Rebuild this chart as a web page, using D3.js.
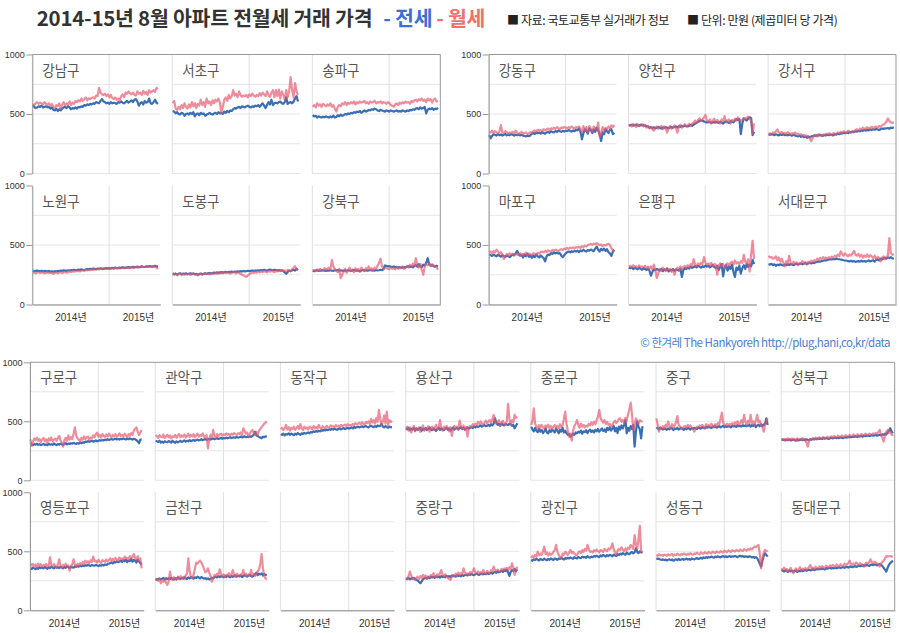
<!DOCTYPE html>
<html><head><meta charset="utf-8">
<script src="https://cdn.jsdelivr.net/npm/d3@7"></script>
<style>body{margin:0;background:#fff}svg{display:block}</style>
</head><body><script>
// ---------- DATA (만원 / ㎡, weekly, 2014-01 ~ 2015-08) ----------
const yTicks = [0, 500, 1000];
const yGrid = [0, 250, 500, 750];
const xGridDates = ["2014-01-01", "2015-01-01"];
const xTickDates = ["2014-07-01", "2015-05-18"];
const xTickLabels = ["2014년", "2015년"];
const seriesNames = ["전세", "월세"];

const groupA = [["강남구","서초구","송파구"],["노원구","도봉구","강북구"]];
const groupB = [["강동구","양천구","강서구"],["마포구","은평구","서대문구"]];
const groupC = [["구로구","관악구","동작구","용산구","종로구","중구","성북구"],["영등포구","금천구",null,"중랑구","광진구","성동구","동대문구"]];

const gangnamJeonse = [575,560,550,555,565,560,570,555,560,565,555,560,545,555,535,530,545,525,540,530,545,555,560,550,565,555,540,550,545,555,545,560,555,565,560,575,570,580,575,585,580,590,585,600,595,590,610,625,605,600,590,595,585,600,590,595,590,585,600,595,605,595,590,600,610,595,605,615,600,620,625,605,570,590,600,580,610,595,600,630,590,585,600,620,595,585];
const gangnamWolse = [580,575,590,600,585,595,590,580,600,585,575,590,570,585,560,550,575,565,590,545,580,600,570,590,580,605,575,595,585,610,600,615,605,630,610,625,640,615,630,625,635,640,630,655,650,720,680,665,660,670,650,665,640,660,635,625,640,620,630,615,650,665,640,680,670,690,675,665,680,660,655,690,670,680,660,695,670,685,660,700,680,690,700,685,720,710];
const seochoJeonse = [525,520,505,515,500,495,510,505,485,500,505,495,510,500,515,480,500,505,490,510,500,505,485,495,500,510,500,495,505,510,500,515,505,510,500,520,510,525,515,530,525,540,550,545,555,560,550,565,560,555,565,570,560,555,565,560,570,565,575,560,575,590,570,550,575,600,580,620,575,590,595,590,600,605,590,585,600,640,585,595,600,590,605,630,650,605];
const seochoWolse = [590,610,545,535,560,540,575,550,590,560,545,580,555,600,565,590,550,585,570,620,575,600,560,630,590,605,575,615,590,620,605,630,600,505,560,620,640,610,660,630,650,700,655,670,640,690,660,645,655,650,660,640,665,650,670,655,645,660,650,675,655,680,665,650,690,660,645,680,700,640,700,650,705,630,690,660,620,700,640,690,810,700,640,760,690,660];
const songpaJeonse = [490,480,485,470,480,475,470,478,472,480,475,470,480,472,485,470,475,490,480,495,485,490,500,495,505,500,510,505,515,510,520,515,525,510,520,530,520,525,535,530,540,535,545,540,530,525,535,530,525,520,530,525,520,530,525,520,525,530,520,525,520,530,525,520,530,525,535,530,540,535,545,550,540,555,545,550,560,505,535,545,540,550,535,545,540,552];
const songpaWolse = [560,575,555,590,570,580,560,585,575,565,580,570,590,560,575,545,520,560,575,565,590,580,600,575,595,585,600,590,605,580,600,590,605,595,600,610,590,600,585,605,595,600,610,590,600,595,605,590,600,595,585,600,590,575,570,560,580,590,575,595,585,600,590,605,595,600,585,610,600,615,620,605,625,615,630,610,620,600,630,615,625,595,620,630,605,610];
const nowonJeonse = [285,280,283,285,282,280,284,278,282,280,278,282,276,280,275,280,278,282,280,285,282,287,285,283,288,286,290,288,292,290,288,293,290,295,292,290,294,298,295,300,298,302,300,298,302,300,304,302,300,303,305,302,306,304,308,305,310,307,305,310,308,312,310,308,312,314,310,313,316,312,315,318,314,316,320,317,315,320,318,322,320,318,322,325,320,318];
const nowonWolse = [265,270,262,268,272,265,270,268,262,266,270,264,268,262,258,265,270,262,268,272,265,270,275,268,272,278,274,280,276,282,280,285,278,284,288,282,290,286,292,288,294,290,296,292,298,295,300,296,302,298,300,304,298,302,305,300,306,302,308,304,306,310,305,308,312,306,310,314,308,312,315,310,316,312,318,314,316,320,316,318,322,316,320,318,310,300];
const dobongJeonse = [262,255,260,252,258,262,255,260,256,262,255,258,262,256,260,254,258,250,256,260,254,258,262,258,262,265,260,264,268,265,270,266,270,272,268,272,275,270,274,272,276,273,277,275,278,276,280,277,282,278,280,284,280,283,286,282,286,284,288,285,290,286,292,288,285,290,294,290,288,292,290,286,290,285,288,282,270,258,275,285,280,288,292,285,300,290];
const dobongWolse = [255,250,258,245,255,262,248,256,250,258,252,260,248,256,262,250,255,245,252,258,250,256,262,255,260,252,258,262,256,264,258,265,260,268,262,270,264,272,268,260,265,272,268,262,270,265,258,250,245,238,232,245,255,262,270,265,272,268,276,270,278,272,280,275,270,282,276,284,278,272,282,278,285,280,288,282,286,278,290,284,280,295,310,322,295,288];
const gangbukJeonse = [283,280,285,288,282,286,284,288,285,282,286,284,288,285,283,288,286,290,284,288,285,282,287,284,288,286,282,286,290,285,287,284,280,286,290,285,288,284,286,290,286,288,284,290,286,288,292,288,295,328,325,320,322,318,315,320,312,316,310,314,308,312,315,310,318,322,315,320,312,325,330,318,340,322,315,335,328,350,389,340,325,330,322,318,325,320];
const gangbukWolse = [285,290,280,295,285,300,290,285,305,295,300,310,295,375,320,300,285,270,300,222,250,275,300,265,290,310,280,295,270,305,285,300,275,310,290,280,305,295,320,290,305,285,310,300,325,350,385,320,300,310,305,300,295,310,300,305,295,315,300,310,305,320,300,315,325,310,335,320,345,330,389,330,310,340,290,250,320,340,330,345,325,340,330,320,315,292];
const gangdongJeonse = [323,295,315,330,325,320,330,322,328,318,325,332,320,328,322,330,325,318,326,322,328,320,325,318,315,312,318,314,320,335,340,332,345,338,342,335,348,340,335,345,350,342,355,348,345,358,350,362,355,350,358,352,360,355,365,358,352,362,356,368,362,379,350,287,340,372,355,335,380,365,340,370,350,385,360,330,272,345,330,372,355,340,368,372,330,343];
const gangdongWolse = [351,345,360,340,355,348,338,352,407,345,340,355,348,335,345,340,350,338,360,345,330,342,350,335,340,345,332,338,348,342,355,362,350,368,358,365,355,372,362,370,378,365,380,372,385,375,390,380,372,388,380,392,385,378,390,382,395,385,378,390,385,395,370,350,398,360,390,345,399,375,355,395,380,365,427,309,340,390,355,385,372,395,380,405,390,407];
const yangcheonJeonse = [407,405,410,402,408,412,405,400,410,404,408,402,398,395,385,390,382,388,380,385,392,385,378,388,382,390,385,380,388,392,385,390,395,388,398,392,400,395,402,398,395,402,408,400,410,420,425,435,440,445,442,438,432,428,435,430,425,432,428,435,430,425,435,428,420,432,438,430,425,440,435,430,445,455,450,458,331,420,463,455,445,460,472,465,323,351];
const yangcheonWolse = [400,410,395,415,405,390,412,398,405,415,395,408,385,400,378,392,370,360,385,395,375,390,400,370,395,380,343,385,400,375,390,405,380,343,395,410,385,400,415,395,405,418,400,420,430,445,425,450,465,440,455,470,492,445,430,455,420,445,460,425,450,435,420,455,440,483,430,445,455,420,450,440,460,445,472,455,440,450,465,455,470,478,460,445,337,421];
const gangseoJeonse = [329,325,332,328,322,330,326,320,328,324,330,322,326,320,328,322,318,325,320,315,312,318,308,315,305,312,300,310,306,312,315,320,316,322,318,325,320,316,324,320,326,322,328,324,320,330,326,335,330,338,335,342,338,345,340,348,345,352,348,355,352,358,355,362,358,365,360,368,362,370,365,372,368,375,370,365,372,378,374,380,378,382,376,385,382,388];
const gangseoWolse = [330,338,325,345,340,355,371,345,338,350,335,342,330,348,338,325,340,332,345,328,335,322,331,318,325,312,320,305,295,272,300,318,325,312,330,320,315,328,322,335,325,338,330,322,340,335,328,345,338,350,342,355,348,340,360,352,345,358,350,365,372,360,378,368,385,372,380,390,375,385,392,380,388,395,385,400,392,405,410,420,435,463,440,430,425,427];
const mapoJeonse = [423,415,408,420,412,405,418,410,402,415,408,400,412,405,398,410,420,415,430,451,425,410,418,395,420,405,428,400,415,392,410,398,420,405,395,412,400,390,362,405,420,415,432,425,438,430,435,428,432,410,398,415,430,440,445,438,448,442,450,445,452,440,455,448,460,450,445,458,452,462,455,448,470,487,460,445,468,455,470,450,465,440,430,409,445,460];
const mapoWolse = [440,445,430,450,438,460,445,425,440,420,382,405,425,412,430,418,428,410,425,420,415,430,408,425,418,435,412,428,420,415,432,425,418,435,428,440,445,438,450,442,455,448,440,458,450,462,455,448,460,465,458,470,465,475,468,478,472,480,470,482,478,485,475,490,482,495,488,500,505,510,502,512,505,515,508,498,505,490,501,495,505,510,500,470,455,446];
const eunpyeongJeonse = [310,305,312,298,308,302,295,310,300,292,305,298,290,302,285,242,275,295,288,300,292,285,298,280,295,288,302,278,290,285,298,282,295,290,285,300,231,290,305,298,310,302,318,308,315,322,312,325,318,310,322,315,328,318,325,312,320,330,315,305,325,290,315,340,237,310,330,285,320,300,335,275,231,310,290,325,260,305,330,300,340,315,335,320,376,340];
const eunpyeongWolse = [320,325,315,330,318,322,310,328,315,320,312,325,305,318,300,320,295,335,290,223,260,300,285,310,295,280,305,290,300,275,295,251,290,310,285,320,300,315,325,305,330,315,340,320,381,335,325,345,330,350,340,398,350,335,345,330,350,320,340,335,251,330,345,320,340,310,335,345,325,350,360,335,370,345,355,340,365,350,418,360,345,380,279,420,535,381];
const seodaemunJeonse = [340,335,342,330,338,325,335,330,338,332,328,335,330,338,332,340,335,330,338,342,336,340,345,338,342,348,340,345,350,345,352,348,355,358,362,360,365,368,372,370,375,378,380,378,382,380,385,382,380,378,375,372,370,368,365,362,368,360,365,358,362,365,360,368,362,366,360,365,370,362,368,372,360,375,380,370,385,378,388,392,385,395,390,398,388,382];
const seodaemunWolse = [409,395,400,385,390,405,370,395,360,385,350,320,365,345,409,350,335,360,340,355,330,350,340,365,345,358,335,360,350,368,355,372,360,385,378,392,380,398,388,395,385,398,390,402,395,410,400,420,405,446,425,410,430,415,405,420,412,430,451,420,410,425,402,418,395,412,400,420,398,415,405,390,410,385,400,392,362,395,405,380,400,410,557,430,418,426];
const guroJeonse = [319,305,298,308,302,310,300,306,298,304,308,300,305,298,310,302,306,300,312,304,298,308,302,310,305,300,308,315,305,312,308,315,310,318,312,308,316,310,320,314,322,318,328,325,332,326,330,335,328,332,338,330,335,340,336,342,338,345,340,348,342,346,350,344,348,352,346,350,345,352,348,354,350,346,352,348,355,350,345,352,348,340,330,314,345,347];
const guroWolse = [347,291,330,355,340,360,335,350,325,345,360,330,348,320,355,338,362,330,345,352,335,358,376,340,320,285,340,360,335,380,345,365,350,395,449,380,355,345,328,360,345,372,350,365,370,340,362,355,380,365,390,404,370,385,362,392,375,368,388,372,395,378,365,385,372,390,368,380,398,375,385,370,395,380,365,392,378,400,385,420,435,449,410,384,405,427];
const gwanakJeonse = [336,330,325,335,320,328,318,330,325,322,332,328,320,335,325,318,330,322,328,335,325,330,338,328,335,330,340,332,336,342,335,340,345,338,342,348,340,345,350,342,348,352,345,350,355,348,352,358,350,355,360,352,358,355,362,356,360,365,358,362,365,360,368,362,365,370,364,368,372,365,370,366,372,368,375,385,412,380,375,368,362,356,370,365,372,370];
const gwanakWolse = [384,375,360,382,370,365,388,358,375,385,365,380,355,372,368,385,360,378,392,365,380,370,388,362,375,395,368,385,372,390,365,380,395,370,385,375,398,372,360,385,271,350,385,365,427,380,360,392,375,388,395,378,390,382,398,385,392,380,395,388,400,390,385,398,392,405,385,441,420,395,405,370,395,415,427,400,390,410,384,420,435,450,465,480,490,497];
const dongjakJeonse = [390,385,395,380,392,388,398,385,395,390,382,395,388,400,392,385,398,392,402,395,400,405,398,410,405,415,410,418,412,420,415,425,420,428,422,430,425,432,428,435,430,438,432,428,435,440,432,438,442,435,440,445,438,442,448,440,452,445,450,455,448,452,458,450,455,460,452,448,458,462,455,450,460,452,465,458,462,477,455,448,460,452,445,455,450,449];
const dongjakWolse = [432,445,425,440,469,430,450,420,445,435,455,428,442,460,435,477,440,425,455,438,448,430,455,445,432,460,440,452,438,469,445,435,458,448,440,462,450,445,465,455,460,448,468,455,462,450,470,458,465,472,460,475,465,470,462,478,470,485,475,480,488,475,492,480,470,495,485,500,478,520,490,510,480,530,495,596,520,469,500,550,480,582,469,510,495,503];
const yongsanJeonse = [441,432,445,425,438,430,445,422,440,428,435,445,420,438,430,442,425,435,448,430,425,440,432,418,435,445,428,440,432,425,438,445,430,440,422,435,448,430,438,445,432,440,450,435,445,430,442,448,438,445,450,442,455,448,460,452,458,465,455,462,468,458,462,470,460,475,465,480,525,490,470,478,462,480,470,465,478,472,468,480,475,462,470,441,460,483];
const yongsanWolse = [441,455,420,448,405,435,460,415,440,425,450,410,438,465,420,445,430,458,412,440,455,425,448,470,430,445,511,440,420,455,432,460,445,415,450,376,430,462,440,455,428,506,455,440,465,425,450,370,440,460,450,475,465,480,470,495,478,500,485,470,490,505,480,498,510,488,520,554,500,480,495,510,460,490,505,480,475,500,647,520,469,510,490,554,530,540];
const jongnoJeonse = [455,430,415,445,420,408,435,412,428,400,415,440,405,398,425,410,432,418,405,440,420,398,430,412,445,405,420,398,385,392,370,380,395,385,405,398,412,405,420,395,415,408,425,400,418,430,410,422,405,428,415,435,412,425,440,418,432,410,445,425,450,420,438,460,415,445,400,455,430,465,440,470,511,398,445,420,460,435,470,285,410,497,455,430,356,460];
const jongnoWolse = [469,510,610,480,455,440,468,445,470,450,438,465,448,472,440,460,435,455,470,445,462,440,475,452,465,520,582,480,420,370,395,336,420,460,480,511,470,445,480,455,470,448,462,455,480,465,490,470,497,475,510,540,596,530,505,489,510,478,495,470,480,455,470,490,505,485,500,520,525,495,510,490,530,505,560,600,658,560,427,470,525,505,480,510,500,497];
const jungguJeonse = [449,440,432,445,438,430,442,435,428,440,432,445,438,425,440,435,445,430,438,442,435,428,440,432,445,438,430,442,436,445,440,435,448,442,438,450,445,440,452,446,455,448,442,455,450,458,446,452,460,448,455,462,450,458,452,460,455,448,462,456,460,452,465,458,462,455,468,460,465,458,462,470,455,468,460,472,450,465,470,458,475,460,470,480,525,469];
const jungguWolse = [525,470,412,450,435,460,442,470,455,497,460,445,475,450,468,490,545,470,455,448,440,455,462,445,470,452,465,448,435,412,440,455,448,465,450,470,458,445,475,460,468,455,480,462,450,475,460,485,470,520,573,490,470,465,480,460,478,470,485,465,490,475,500,470,485,510,480,554,495,470,505,485,554,480,500,470,510,554,490,505,470,450,412,470,500,525];
const seongbukJeonse = [347,342,345,338,344,340,346,338,342,345,340,336,344,338,342,346,340,345,338,348,344,340,348,345,350,346,352,348,355,350,354,350,356,352,358,354,350,356,360,355,358,362,356,360,358,364,360,358,362,365,362,366,368,365,370,368,372,370,368,374,372,375,370,378,374,376,380,375,378,382,378,380,384,378,382,386,380,390,385,395,388,405,420,441,415,398];
const seongbukWolse = [345,350,338,352,342,356,340,348,355,342,350,338,355,345,352,340,358,345,350,320,285,335,350,345,358,348,362,350,356,365,352,360,368,355,362,370,358,365,372,362,375,368,362,378,370,365,380,372,368,382,375,370,385,378,372,388,380,375,390,382,378,392,385,380,395,388,382,396,390,385,398,390,402,395,410,427,385,360,328,380,410,427,400,415,390,376];
const yeongdeungpoJeonse = [356,350,362,355,348,360,352,365,358,362,355,368,360,352,365,358,370,362,355,368,360,365,358,370,362,355,368,360,372,365,358,370,365,362,372,368,375,370,378,372,380,375,382,378,385,380,376,384,380,378,385,380,376,382,378,385,380,388,384,392,395,400,405,398,410,405,415,408,412,420,410,425,415,430,408,422,418,435,412,428,420,405,430,415,400,384];
const yeongdeungpoWolse = [398,380,392,372,388,365,395,378,390,370,385,375,392,368,380,449,385,370,392,375,365,390,432,378,360,385,372,395,368,380,336,375,390,432,385,370,395,380,400,385,410,395,420,405,415,398,425,410,455,415,420,405,428,412,400,425,418,410,430,415,425,440,418,435,425,445,430,420,448,435,440,425,455,438,445,430,460,440,452,477,445,430,460,420,440,356];
const geumcheonJeonse = [263,258,265,270,262,268,275,260,272,266,270,264,275,268,262,272,266,278,270,265,275,268,280,272,266,278,270,282,275,268,280,274,285,278,270,282,275,268,272,265,270,262,268,275,270,280,285,278,288,282,290,284,280,288,282,292,286,280,290,284,288,295,285,292,288,296,282,290,298,292,285,295,300,290,285,295,305,319,298,310,305,312,295,308,300,299];
const geumcheonWolse = [271,260,248,265,229,250,240,262,235,215,245,328,270,255,280,262,258,285,265,290,272,280,265,295,310,441,330,285,271,300,350,404,395,410,421,405,380,350,322,330,356,320,290,243,275,300,285,310,295,347,310,290,305,285,300,295,315,290,305,342,300,285,310,295,290,305,300,342,295,310,290,305,300,342,295,310,290,305,330,345,395,477,360,290,271,263];
const jungnangJeonse = [271,265,275,262,270,268,275,265,258,252,240,229,245,262,270,275,268,280,272,285,278,282,275,288,280,285,278,290,282,288,280,292,285,290,282,295,288,292,285,298,290,295,288,300,292,298,302,295,305,300,308,302,298,306,310,304,300,308,312,305,310,306,315,308,312,318,310,320,325,318,330,322,328,335,325,340,332,345,320,291,325,340,335,350,330,347];
const jungnangWolse = [257,270,290,328,295,270,265,257,275,285,265,290,275,300,280,295,270,288,278,300,285,314,290,280,305,295,315,342,300,285,305,290,275,265,257,285,300,290,310,295,320,300,315,305,356,320,305,315,300,325,310,330,356,320,310,330,315,325,305,342,320,310,335,325,315,340,330,370,345,330,345,335,328,350,340,355,345,360,340,365,350,398,360,300,345,370];
const gwangjinJeonse = [427,420,432,425,438,428,422,435,430,425,438,430,424,436,428,440,432,426,438,435,428,440,434,445,436,430,442,438,445,440,448,442,436,450,444,440,452,446,442,455,448,452,445,458,450,446,455,450,460,455,462,455,450,465,458,470,462,455,468,460,470,465,458,472,465,460,475,468,480,472,485,475,470,490,480,475,488,495,482,490,525,495,485,500,490,497];
const gwangjinWolse = [441,460,450,470,455,497,465,480,470,500,540,475,490,465,485,470,478,495,510,554,500,470,455,441,480,470,495,485,470,490,511,485,495,480,470,469,490,500,485,510,495,520,505,554,520,495,500,490,510,498,515,500,490,510,505,495,520,510,500,525,515,530,568,520,490,470,505,520,510,534,515,500,525,510,530,520,554,540,520,638,560,520,600,715,497,497];
const seongdongJeonse = [441,435,438,430,427,432,425,430,422,428,432,425,430,420,428,432,425,435,428,430,435,428,432,438,430,435,428,440,435,432,438,442,435,440,445,438,448,442,450,445,452,448,455,450,446,455,450,458,452,448,455,460,452,458,450,455,460,452,458,455,460,455,450,458,462,455,460,452,458,455,450,458,455,448,452,445,450,441,420,395,370,420,460,483,470,455];
const seongdongWolse = [469,462,475,465,470,460,472,468,462,475,465,470,478,462,472,468,480,470,465,478,470,482,475,468,480,472,485,476,470,482,478,488,480,475,490,484,478,492,486,480,495,488,482,498,490,486,500,492,488,502,495,490,505,498,492,508,500,495,510,502,498,512,505,500,515,508,502,518,510,505,520,512,525,515,530,540,535,545,554,480,356,440,490,511,505,497];
const dongdaemunJeonse = [342,335,328,340,332,325,338,330,335,328,332,338,325,335,330,340,332,336,342,335,340,345,338,342,348,340,345,350,346,352,348,355,350,346,358,352,356,360,354,358,355,362,356,360,365,358,362,368,360,365,370,362,368,372,365,370,375,368,372,378,374,380,375,382,378,385,380,376,385,388,382,390,386,380,388,392,385,375,360,345,328,360,385,400,410,421];
const dongdaemunWolse = [356,340,362,335,350,328,345,360,330,315,340,355,332,348,365,338,352,345,360,340,355,368,384,350,362,345,370,358,352,372,360,375,365,355,378,370,362,380,372,385,375,368,388,378,372,390,380,375,395,385,392,400,421,395,385,398,390,405,395,388,400,392,385,370,395,405,398,410,432,405,398,412,405,395,390,370,395,410,420,440,460,455,458,460,455,455];

// table built from the named arrays
const seriesTable = {
  "강남구":[gangnamJeonse,gangnamWolse],"서초구":[seochoJeonse,seochoWolse],"송파구":[songpaJeonse,songpaWolse],
  "노원구":[nowonJeonse,nowonWolse],"도봉구":[dobongJeonse,dobongWolse],"강북구":[gangbukJeonse,gangbukWolse],
  "강동구":[gangdongJeonse,gangdongWolse],"양천구":[yangcheonJeonse,yangcheonWolse],"강서구":[gangseoJeonse,gangseoWolse],
  "마포구":[mapoJeonse,mapoWolse],"은평구":[eunpyeongJeonse,eunpyeongWolse],"서대문구":[seodaemunJeonse,seodaemunWolse],
  "구로구":[guroJeonse,guroWolse],"관악구":[gwanakJeonse,gwanakWolse],"동작구":[dongjakJeonse,dongjakWolse],
  "용산구":[yongsanJeonse,yongsanWolse],"종로구":[jongnoJeonse,jongnoWolse],"중구":[jungguJeonse,jungguWolse],
  "성북구":[seongbukJeonse,seongbukWolse],"영등포구":[yeongdeungpoJeonse,yeongdeungpoWolse],"금천구":[geumcheonJeonse,geumcheonWolse],
  "중랑구":[jungnangJeonse,jungnangWolse],"광진구":[gwangjinJeonse,gwangjinWolse],"성동구":[seongdongJeonse,seongdongWolse],
  "동대문구":[dongdaemunJeonse,dongdaemunWolse]
};

// ---------- RENDER ----------
const parse = d3.timeParse("%Y-%m-%d");
const weekDates = d3.timeFriday.range(new Date(2014,0,3), new Date(2015,7,22));
const xDomain = [new Date(2014,0,1), new Date(2015,8,1)];
const COLORS = {jeonse:"#3a6fb6", wolse:"#e8566b"};
const KFONT = "'Noto Sans CJK KR','Noto Sans',sans-serif";
const NFONT = "'Liberation Sans',Arial,'Noto Sans CJK KR',sans-serif";

const svg = d3.select("body").append("svg").attr("width",900).attr("height",633);

const layouts = [
  {rows: groupA, x0: 32.3, step: 140, w: 128, tops: [54.5, 185.5], h: 119, right: 440.3},
  {rows: groupB, x0: 488.7, step: 139.7, w: 128, tops: [54.5, 185.5], h: 119, right: 896},
  {rows: groupC, x0: 30, step: 125.2, w: 113.7, tops: [362.3, 492.3], h: 118, right: 894.7}
];

layouts.forEach(L => {
  const g = svg.append("g");
  const x = d3.scaleTime().domain(xDomain).range([0, L.w]);
  L.rows.forEach((row, r) => {
    const top = L.tops[r];
    const y = d3.scaleLinear().domain([0, 1000]).range([L.h, 0]);
    const last = r === L.rows.length - 1;
    row.forEach((name, c) => {
      const p = g.append("g").attr("transform", `translate(${L.x0 + c*L.step},${top})`);
      p.selectAll(".hg").data(yGrid).join("line")
        .attr("x1", 0).attr("x2", L.w).attr("y1", d => y(d)).attr("y2", d => y(d))
        .attr("stroke", "#e6e6e6").attr("stroke-width", 1);
      p.selectAll(".vg").data(xGridDates.map(parse)).join("line")
        .attr("x1", d => x(d)).attr("x2", d => x(d)).attr("y1", 0).attr("y2", L.h)
        .attr("stroke", "#e0e0e0").attr("stroke-width", 1);
      if (last) {
        const ax = p.append("g").attr("transform", `translate(0,${L.h})`)
          .call(d3.axisBottom(x).tickValues(xTickDates.map(parse)).tickSize(0).tickPadding(9.5)
            .tickFormat((d,i) => xTickLabels[i]));
        ax.select(".domain").attr("stroke", "#aaa").attr("stroke-width", 1.5);
        ax.selectAll("text").attr("font-family", NFONT).attr("font-size", 10).attr("fill", "#333");
      }
      if (name) {
        const [js, ws] = seriesTable[name];
        const line = d3.line().x(d => x(d.d)).y(d => y(d.v));
        p.append("path").datum(weekDates.map((d,i) => ({d, v: js[i]})))
          .attr("d", line).attr("fill", "none").attr("stroke", COLORS.jeonse)
          .attr("stroke-width", 2.2).attr("stroke-linejoin", "round");
        p.append("path").datum(weekDates.map((d,i) => ({d, v: ws[i]})))
          .attr("d", line).attr("fill", "none").attr("stroke", COLORS.wolse)
          .attr("stroke-opacity", 0.68).attr("stroke-width", 2.2).attr("stroke-linejoin", "round");
        p.append("text").attr("x", 10).attr("y", 21).text(name)
          .attr("font-family", KFONT).attr("font-size", 14.5).attr("fill", "#555")
          .attr("textLength", name.length * 12.4).attr("lengthAdjust", "spacingAndGlyphs");
      }
    });
    const ya = g.append("g").attr("transform", `translate(${L.x0},${top})`)
      .call(d3.axisLeft(y).tickValues(yTicks).tickSize(6).tickPadding(1.5).tickSizeOuter(0)
        .tickFormat(d3.format("d")));
    ya.select(".domain").attr("stroke", "#999");
    ya.selectAll(".tick line").attr("stroke", "#999");
    ya.selectAll("text").attr("font-family", NFONT).attr("font-size", 9).attr("fill", "#333");
  });
  g.append("line").attr("x1", L.x0).attr("x2", L.right).attr("y1", L.tops[0]).attr("y2", L.tops[0])
    .attr("stroke", "#999");
  g.append("line").attr("x1", L.right).attr("x2", L.right)
    .attr("y1", L.tops[0]).attr("y2", L.tops[L.tops.length-1] + L.h).attr("stroke", "#999");
});

// ---------- TITLES ----------
const title = svg.append("text").attr("x", 36.7).attr("y", 26)
  .attr("font-family", KFONT).attr("font-size", 20.5).attr("font-weight", 700)
  .attr("letter-spacing", "-0.25px");
title.append("tspan").attr("fill", "#333").text("2014-15년 8월 아파트 전월세 거래 가격");
title.append("tspan").attr("dx", 11).attr("fill", "#3b6fd6").text("- " + seriesNames[0]);
title.append("tspan").attr("dx", 4).attr("fill", "#f0706a").text("- " + seriesNames[1]);

const notes = svg.append("text").attr("y", 24.5)
  .attr("font-family", KFONT).attr("font-size", 12).attr("fill", "#222")
  .attr("letter-spacing", "-0.4px");
notes.append("tspan").attr("x", 507).text("■ 자료: 국토교통부 실거래가 정보");
notes.append("tspan").attr("x", 687).text("■ 단위: 만원 (제곱미터 당 가격)");

svg.append("text").attr("x", 890).attr("y", 346.5).attr("text-anchor", "end")
  .text("© 한겨레 The Hankyoreh http://plug,hani,co,kr/data")
  .attr("font-family", KFONT).attr("font-size", 11.5).attr("fill", "#4a7fd6")
  .attr("letter-spacing", "-0.5px");
</script></body></html>
